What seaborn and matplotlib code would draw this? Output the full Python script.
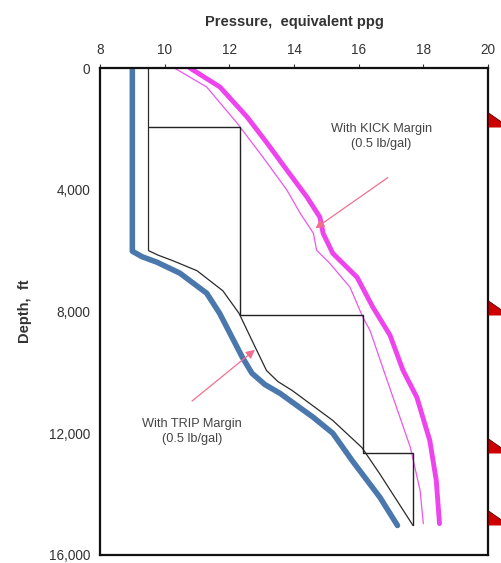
import numpy as np
import pandas as pd
import matplotlib
matplotlib.use("Agg")
import matplotlib.pyplot as plt
import seaborn as sns

# ── data (ppg vs depth, ft) ──────────────────────────────────────────────────
pore_ppg = [9.0, 9.0, 9.3, 9.76, 10.47, 11.3, 11.7, 12.4, 12.7, 13.1, 13.57,
            14.6, 15.2, 15.8, 16.66, 17.2]
pore_depth = [0, 6020, 6200, 6380, 6740, 7400, 8060, 9500, 10030, 10400,
              10690, 11480, 12000, 12900, 14110, 15030]

trip_ppg = [9.5, 9.5, 9.8, 10.25, 11.0, 11.8, 12.3, 12.7, 13.15, 13.5, 13.95,
            15.2, 16.1, 16.65, 17.68]
trip_depth = [0, 6000, 6150, 6330, 6660, 7320, 8060, 8950, 9940, 10300,
              10600, 11580, 12470, 13330, 15030]

frac_ppg = [10.78, 11.71, 12.55, 13.17, 13.78, 14.4, 14.8, 14.9, 15.2, 15.95,
            16.44, 16.97, 17.37, 17.8, 18.2, 18.4, 18.5]
frac_depth = [0, 625, 1610, 2470, 3355, 4240, 4900, 5430, 6090, 6875, 7860,
              8780, 9930, 10820, 12240, 13550, 14970]

kick_ppg = [10.3, 11.3, 12.24, 13.04, 13.78, 14.19, 14.6, 14.7, 15.1, 15.73,
            16.13, 16.35, 16.88, 17.6, 17.9, 18.0]
kick_depth = [0, 625, 1810, 2930, 4010, 4770, 5430, 5990, 6410, 7200, 8190,
              8620, 10260, 12470, 13880, 14970]

# casing design stair-step
casing_ppg = [9.5, 12.33, 12.33, 16.13, 16.13, 17.68, 17.68]
casing_depth = [1940, 1940, 8130, 8130, 12660, 12660, 15030]
shoe_depth = [1940, 8130, 12660, 15030]

x_ticks = [8, 10, 12, 14, 16, 18, 20]
y_ticks = [0, 4000, 8000, 12000, 16000]
y_labels = ["0", "4,000", "8,000", "12,000", "16,000"]

# ── figure ───────────────────────────────────────────────────────────────────
sns.set_style("white")
plt.rcParams["font.family"] = ["Liberation Sans", "DejaVu Sans"]

fig = plt.figure(figsize=(5.01, 5.63), dpi=100)
ax = fig.add_axes([100 / 501, 1 - 555 / 563, 388 / 501, (555 - 68) / 563])

sns.lineplot(x=pore_ppg, y=pore_depth, sort=False, estimator=None,
             color="#4a78ad", lw=4, ax=ax)
sns.lineplot(x=trip_ppg, y=trip_depth, sort=False, estimator=None,
             color="#2a2a2a", lw=0.9, ax=ax)
sns.lineplot(x=frac_ppg, y=frac_depth, sort=False, estimator=None,
             color="#ee44ee", lw=3.5, ax=ax)
sns.lineplot(x=kick_ppg, y=kick_depth, sort=False, estimator=None,
             color="#ee55ee", lw=0.9, ax=ax)
sns.lineplot(x=casing_ppg, y=casing_depth, sort=False, estimator=None,
             color="#222222", lw=1.0, ax=ax)

# casing shoe markers just outside the right spine
shoe = [(0, 0), (0, 0.7), (1, 0)]
ax.scatter([20] * len(shoe_depth), shoe_depth, marker=shoe, s=900,
           color="#cc0000", edgecolor="#550000", lw=0.6, clip_on=False,
           zorder=5)

# annotations
ax.annotate("", xy=(14.59, 5320), xytext=(16.97, 3550),
            arrowprops=dict(arrowstyle="-|>", color="#f07090", lw=0.9,
                            mutation_scale=13))
ax.text(16.7, 2250, "With KICK Margin\n(0.5 lb/gal)", ha="center",
        va="center", fontsize=9.2, color="#444444", linespacing=1.35)
ax.annotate("", xy=(12.86, 9200), xytext=(10.78, 11000),
            arrowprops=dict(arrowstyle="-|>", color="#f07090", lw=0.9,
                            mutation_scale=13))
ax.text(10.85, 11950, "With TRIP Margin\n(0.5 lb/gal)", ha="center",
        va="center", fontsize=9.2, color="#444444", linespacing=1.35)

# axes
ax.set_xlim(8, 20)
ax.set_ylim(16000, 0)
ax.xaxis.tick_top()
ax.xaxis.set_label_position("top")
ax.set_xticks(x_ticks)
ax.set_yticks(y_ticks)
ax.set_yticklabels(y_labels)
ax.tick_params(axis="both", labelsize=9.8, colors="#333333", length=3,
               width=0.8, pad=4)
ax.tick_params(axis="x", pad=5)
ax.set_xlabel("Pressure,  equivalent ppg", fontsize=10.5, fontweight="bold",
              color="#333333", labelpad=12)
ax.set_ylabel("Depth,  ft", fontsize=10.5, fontweight="bold", color="#333333",
              labelpad=12)
for sp in ax.spines.values():
    sp.set_color("#111111")
    sp.set_linewidth(1.6)

fig.savefig("out.png", dpi=100)
